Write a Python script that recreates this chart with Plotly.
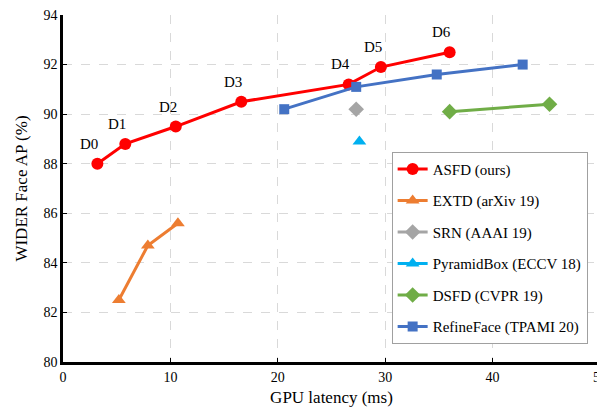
import plotly.graph_objects as go

asfd_x = [3.2, 5.8, 10.5, 16.6, 26.6, 29.6, 36.0]
asfd_y = [88.0, 88.8, 89.5, 90.5, 91.2, 91.9, 92.5]
asfd_labels = ["D0", "D1", "D2", "D3", "D4", "D5", "D6"]

extd_x = [5.2, 7.9, 10.7]
extd_y = [82.5, 84.7, 85.6]

srn_x = [27.3]
srn_y = [90.2]

pyramid_x = [27.6]
pyramid_y = [88.9]

dsfd_x = [36.0, 45.3]
dsfd_y = [90.1, 90.4]

refine_x = [20.6, 27.3, 34.8, 42.8]
refine_y = [90.2, 91.1, 91.6, 92.0]

FONT = "Liberation Serif, Times New Roman, serif"

series = [
    ("ASFD (ours)", asfd_x, asfd_y, "#FF0000", "circle", 12),
    ("EXTD (arXiv 19)", extd_x, extd_y, "#ED7D31", "triangle-up", 12),
    ("SRN (AAAI 19)", srn_x, srn_y, "#A5A5A5", "diamond", 12),
    ("PyramidBox (ECCV 18)", pyramid_x, pyramid_y, "#00B0F0", "triangle-up", 12),
    ("DSFD (CVPR 19)", dsfd_x, dsfd_y, "#70AD47", "diamond", 12),
    ("RefineFace (TPAMI 20)", refine_x, refine_y, "#4472C4", "square", 10),
]

fig = go.Figure()
for i, (name, xs, ys, color, sym, sz) in enumerate(series):
    fig.add_trace(go.Scatter(
        x=xs, y=ys, name=name, mode="lines+markers",
        line=dict(color=color, width=3),
        marker=dict(color=color, symbol=sym, size=sz),
        legendgroup=f"g{i}",
    ))

for x, y, t in zip(asfd_x, asfd_y, asfd_labels):
    fig.add_annotation(x=x, y=y, text=t, showarrow=False, xshift=-8, yshift=20,
                       font=dict(family=FONT, size=15, color="black"))

# page body has an 8px default margin, so shrink the figure accordingly
fig.update_layout(
    width=597, height=399,
    margin=dict(l=55, r=5, t=7, b=45),
    paper_bgcolor="white", plot_bgcolor="white",
    font=dict(family=FONT, size=14, color="black"),
    legend=dict(x=0.612, y=0.606, xanchor="left", yanchor="top",
                bordercolor="#A0A0A0", borderwidth=1, bgcolor="white",
                font=dict(family=FONT, size=15), tracegroupgap=9,
                traceorder="grouped", itemwidth=30),
)
fig.update_xaxes(
    range=[0, 50], dtick=10, showline=True, linecolor="black", linewidth=2.5,
    showgrid=True, gridcolor="#D9D9D9", griddash="dash", gridwidth=1,
    ticks="inside", ticklen=4, tickcolor="black", zeroline=False, automargin=False,
    ticklabeloverflow="allow",
    title=dict(text="GPU latency (ms)", font=dict(family=FONT, size=17), standoff=10),
    tickfont=dict(family=FONT, size=14),
)
fig.update_yaxes(
    range=[80, 94], dtick=2, showline=True, linecolor="black", linewidth=2.5,
    showgrid=True, gridcolor="#D9D9D9", griddash="dash", gridwidth=1,
    ticks="inside", ticklen=4, tickcolor="black", zeroline=False, automargin=False,
    ticklabeloverflow="allow",
    title=dict(text="WIDER Face AP (%)", font=dict(family=FONT, size=17), standoff=12),
    tickfont=dict(family=FONT, size=14),
)

fig.write_html("out.html")
